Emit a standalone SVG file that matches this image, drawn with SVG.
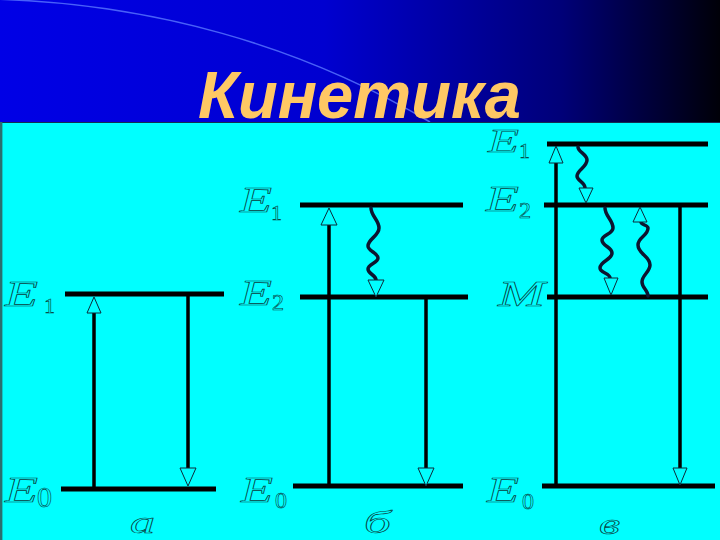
<svg xmlns="http://www.w3.org/2000/svg" width="720" height="540" viewBox="0 0 720 540">
<defs>
<linearGradient id="hdr" x1="0" y1="0" x2="720" y2="0" gradientUnits="userSpaceOnUse">
<stop offset="0" stop-color="#0000e6"/>
<stop offset="0.45" stop-color="#0000d0"/>
<stop offset="0.78" stop-color="#000078"/>
<stop offset="1" stop-color="#000008"/>
</linearGradient>
<style>
.lvl{stroke:#000;stroke-width:5;fill:none}
.shaft{stroke:#000;stroke-width:3.5;fill:none}
.wave{stroke:#0d1530;stroke-width:3.5;fill:none;stroke-linecap:round}
.head{fill:#00ffff;stroke:#0d2a3a;stroke-width:1}
.lbl{font-family:"Liberation Serif",serif;font-style:italic;fill:none;stroke:#0b3b3b;stroke-width:0.6}
.sub{font-family:"Liberation Serif",serif;fill:none;stroke:#0b3b3b;stroke-width:0.6}
</style>
</defs>
<rect x="0" y="0" width="720" height="122" fill="url(#hdr)"/>
<path d="M -10 -1 C 150 3, 300 45, 430 122" fill="none" stroke="#5a78ff" stroke-width="1.5" opacity="0.8"/>
<text x="198" y="118" font-family="'Liberation Sans',Arial,sans-serif" font-weight="bold" font-style="italic" font-size="66" fill="#ffc864" textLength="323" lengthAdjust="spacingAndGlyphs">Кинетика</text>
<rect x="0" y="122" width="720" height="418" fill="#00ffff"/>
<line x1="0" y1="122.5" x2="720" y2="122.5" stroke="#103050" stroke-width="1"/>
<line x1="1.2" y1="122" x2="1.2" y2="540" stroke="#2a7070" stroke-width="2.4"/>

<g id="diagram-a">
<line class="lvl" x1="65" y1="294" x2="224" y2="294"/>
<line class="lvl" x1="61" y1="489" x2="216" y2="489"/>
<text class="lbl" x="5" y="306" font-size="36" textLength="33" lengthAdjust="spacingAndGlyphs">E</text>
<text class="sub" x="44" y="313" font-size="22">1</text>
<text class="lbl" x="5" y="502" font-size="36" textLength="33" lengthAdjust="spacingAndGlyphs">E</text>
<text class="sub" x="37" y="507" font-size="30">0</text>
<text class="lbl" x="130" y="533" font-size="31" textLength="25" lengthAdjust="spacingAndGlyphs">а</text>
</g>

<g id="diagram-b">
<line class="lvl" x1="300" y1="205" x2="463" y2="205"/>
<line class="lvl" x1="300" y1="297" x2="468" y2="297"/>
<line class="lvl" x1="293" y1="486" x2="463" y2="486"/>
<text class="lbl" x="240" y="212" font-size="36" textLength="32" lengthAdjust="spacingAndGlyphs">E</text>
<text class="sub" x="271" y="220" font-size="22">1</text>
<text class="lbl" x="240" y="305" font-size="36" textLength="32" lengthAdjust="spacingAndGlyphs">E</text>
<text class="sub" x="272" y="310" font-size="24">2</text>
<text class="lbl" x="241" y="502" font-size="36" textLength="32" lengthAdjust="spacingAndGlyphs">E</text>
<text class="sub" x="275" y="508" font-size="24">0</text>
<text class="lbl" x="364" y="533" font-size="31" textLength="27" lengthAdjust="spacingAndGlyphs">б</text>
</g>

<g id="diagram-c">
<line class="lvl" x1="547" y1="144" x2="708" y2="144"/>
<line class="lvl" x1="544" y1="205" x2="708" y2="205"/>
<line class="lvl" x1="547" y1="297" x2="708" y2="297"/>
<line class="lvl" x1="542" y1="486" x2="715" y2="486"/>
<text class="lbl" x="488" y="152" font-size="34" textLength="31" lengthAdjust="spacingAndGlyphs">E</text>
<text class="sub" x="519" y="158" font-size="22">1</text>
<text class="lbl" x="486" y="211" font-size="36" textLength="33" lengthAdjust="spacingAndGlyphs">E</text>
<text class="sub" x="519" y="218" font-size="24">2</text>
<text class="lbl" x="498" y="306" font-size="36" textLength="47" lengthAdjust="spacingAndGlyphs">M</text>
<text class="lbl" x="487" y="502" font-size="36" textLength="32" lengthAdjust="spacingAndGlyphs">E</text>
<text class="sub" x="522" y="509" font-size="24">0</text>
<text class="lbl" x="599" y="534" font-size="29" textLength="21" lengthAdjust="spacingAndGlyphs">в</text>
</g>

<g id="connectors">
<line class="shaft" x1="94" y1="489" x2="94" y2="313"/>
<polygon class="head" points="94,297 87,313 101,313"/>
<line class="shaft" x1="188" y1="294" x2="188" y2="468"/>
<polygon class="head" points="188,486 180,468 196,468"/>

<line class="shaft" x1="329" y1="486" x2="329" y2="225"/>
<polygon class="head" points="329,208 321,225 337,225"/>
<line class="shaft" x1="426" y1="297" x2="426" y2="468"/>
<polygon class="head" points="426,486 418,468 434,468"/>
<path class="wave" d="M 371 208 C 371 216 379 220 379 228 C 379 236 368 239 368 246 C 368 251 378 253 378 258 C 378 263 368 264 368 269 C 368 274 376 275 376 280"/>
<polygon class="head" points="376,297 368,280 384,280"/>

<line class="shaft" x1="556" y1="486" x2="556" y2="163"/>
<polygon class="head" points="556,146 549,163 563,163"/>
<line class="shaft" x1="680" y1="205" x2="680" y2="468"/>
<polygon class="head" points="680,485 673,468 687,468"/>
<path class="wave" d="M 578 147 C 578 152 587 154 587 160 C 587 167 577 170 577 176 C 577 181 585 182 585 188"/>
<polygon class="head" points="586,203 579,188 593,188"/>
<path class="wave" d="M 605 208 C 605 216 613 220 613 228 C 613 234 602 235 602 240 C 602 246 612 247 612 253 C 612 260 600 261 600 268 C 600 273 610 273 610 278"/>
<polygon class="head" points="611,295 604,278 618,278"/>
<path class="wave" d="M 648 296 C 648 290 642 288 642 282 C 642 275 650 272 650 265 C 650 256 638 254 638 245 C 638 237 648 236 648 228 C 648 225 641 225 641 222"/>
<polygon class="head" points="640,207 633,222 647,222"/>
</g>
</svg>
